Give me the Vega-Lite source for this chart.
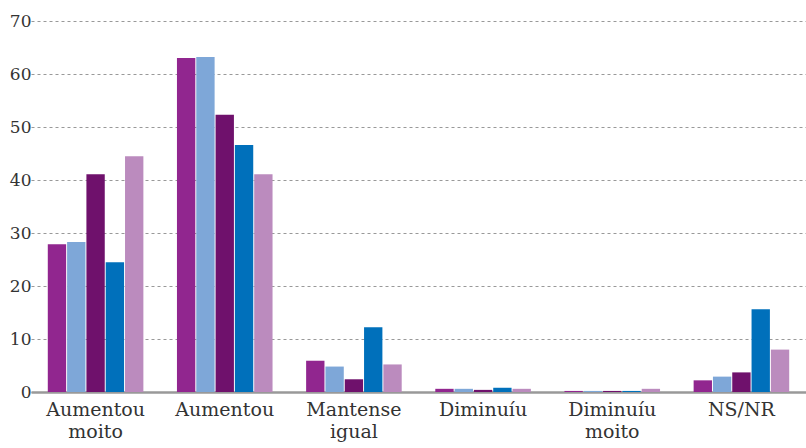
{
  "$schema": "https://vega.github.io/schema/vega-lite/v6.json",
  "width": 775,
  "height": 371,
  "autosize": "none",
  "padding": {"left": 31, "top": 21, "right": 0, "bottom": 56},
  "background": "white",
  "data": {
    "values": [
      {"cat": "Aumentou moito", "serie": "Serie 1", "valor": 27.9},
      {"cat": "Aumentou moito", "serie": "Serie 2", "valor": 28.3},
      {"cat": "Aumentou moito", "serie": "Serie 3", "valor": 41.1},
      {"cat": "Aumentou moito", "serie": "Serie 4", "valor": 24.5},
      {"cat": "Aumentou moito", "serie": "Serie 5", "valor": 44.5},
      {"cat": "Aumentou", "serie": "Serie 1", "valor": 63.0},
      {"cat": "Aumentou", "serie": "Serie 2", "valor": 63.2},
      {"cat": "Aumentou", "serie": "Serie 3", "valor": 52.3},
      {"cat": "Aumentou", "serie": "Serie 4", "valor": 46.6},
      {"cat": "Aumentou", "serie": "Serie 5", "valor": 41.1},
      {"cat": "Mantense igual", "serie": "Serie 1", "valor": 5.9},
      {"cat": "Mantense igual", "serie": "Serie 2", "valor": 4.8},
      {"cat": "Mantense igual", "serie": "Serie 3", "valor": 2.4},
      {"cat": "Mantense igual", "serie": "Serie 4", "valor": 12.2},
      {"cat": "Mantense igual", "serie": "Serie 5", "valor": 5.2},
      {"cat": "Diminuíu", "serie": "Serie 1", "valor": 0.6},
      {"cat": "Diminuíu", "serie": "Serie 2", "valor": 0.6},
      {"cat": "Diminuíu", "serie": "Serie 3", "valor": 0.4},
      {"cat": "Diminuíu", "serie": "Serie 4", "valor": 0.8},
      {"cat": "Diminuíu", "serie": "Serie 5", "valor": 0.6},
      {"cat": "Diminuíu moito", "serie": "Serie 1", "valor": 0.2},
      {"cat": "Diminuíu moito", "serie": "Serie 2", "valor": 0.2},
      {"cat": "Diminuíu moito", "serie": "Serie 3", "valor": 0.2},
      {"cat": "Diminuíu moito", "serie": "Serie 4", "valor": 0.2},
      {"cat": "Diminuíu moito", "serie": "Serie 5", "valor": 0.6},
      {"cat": "NS/NR", "serie": "Serie 1", "valor": 2.2},
      {"cat": "NS/NR", "serie": "Serie 2", "valor": 2.9},
      {"cat": "NS/NR", "serie": "Serie 3", "valor": 3.7},
      {"cat": "NS/NR", "serie": "Serie 4", "valor": 15.6},
      {"cat": "NS/NR", "serie": "Serie 5", "valor": 8.0}
    ]
  },
  "mark": {"type": "bar"},
  "encoding": {
    "x": {
      "field": "cat",
      "type": "nominal",
      "sort": null,
      "title": null,
      "scale": {"paddingInner": 0.26, "paddingOuter": 0.13},
      "axis": {
        "labelAngle": 0,
        "labelExpr": "split(datum.label, ' ')",
        "labelFont": "DejaVu Serif",
        "labelFontSize": 19,
        "labelColor": "#333333",
        "labelLineHeight": 22,
        "labelPadding": 8,
        "ticks": false,
        "domainColor": "#999999",
        "domainWidth": 2.5,
        "grid": false
      }
    },
    "xOffset": {
      "field": "serie",
      "type": "nominal",
      "scale": {"paddingInner": 0.05, "paddingOuter": 0}
    },
    "y": {
      "field": "valor",
      "type": "quantitative",
      "title": null,
      "scale": {"domain": [0, 70], "nice": false},
      "axis": {
        "values": [0, 10, 20, 30, 40, 50, 60, 70],
        "labelFont": "DejaVu Serif",
        "labelFontSize": 17,
        "labelColor": "#333333",
        "labelPadding": 0,
        "ticks": false,
        "domain": false,
        "gridColor": "#999999",
        "gridDash": [3, 3],
        "gridWidth": 1
      }
    },
    "color": {
      "field": "serie",
      "type": "nominal",
      "legend": null,
      "scale": {
        "domain": ["Serie 1", "Serie 2", "Serie 3", "Serie 4", "Serie 5"],
        "range": ["#91268f", "#7ea7d8", "#6f116c", "#0070bb", "#bb8bbe"]
      }
    }
  },
  "config": {"view": {"stroke": null}}
}
